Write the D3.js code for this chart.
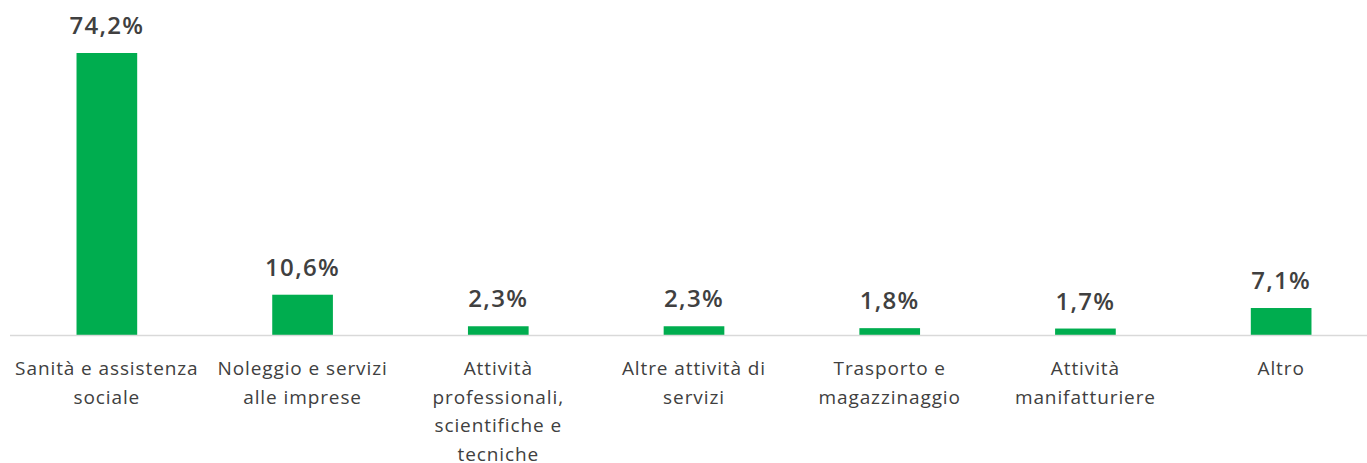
<!DOCTYPE html>
<html><head><meta charset="utf-8">
<script src="https://cdn.jsdelivr.net/npm/d3@7"></script>
<style>body{margin:0;background:#fff;} svg{display:block;}</style>
</head><body>
<svg id="chart" width="1367" height="463"></svg>
<script>
const categories = [
  ["Sanità e assistenza","sociale"],
  ["Noleggio e servizi","alle imprese"],
  ["Attività","professionali,","scientifiche e","tecniche"],
  ["Altre attività di","servizi"],
  ["Trasporto e","magazzinaggio"],
  ["Attività","manifatturiere"],
  ["Altro"]
];
const values = [74.2, 10.6, 2.3, 2.3, 1.8, 1.7, 7.1];
const valueLabels = ["74,2%","10,6%","2,3%","2,3%","1,8%","1,7%","7,1%"];

const svg = d3.select("#chart");
const baseY = 335;
const x = d3.scaleBand().domain(d3.range(values.length)).range([9, 1379]).paddingInner(0.69).paddingOuter(0.345);
const y = d3.scaleLinear().domain([0, 74.2]).range([baseY, 53]);

svg.selectAll("rect.bar").data(values).enter().append("rect")
  .attr("x", (d,i) => x(i)).attr("width", x.bandwidth())
  .attr("y", d => y(d)).attr("height", d => baseY - y(d))
  .attr("fill", "#00ad4f");

svg.append("line").attr("x1", 10).attr("x2", 1367).attr("y1", baseY + 0.5).attr("y2", baseY + 0.5)
  .attr("stroke", "#d9d9d9").attr("stroke-width", 1.5);

svg.selectAll("text.val").data(values).enter().append("text")
  .attr("x", (d,i) => x(i) + x.bandwidth()/2).attr("y", d => y(d) - 19)
  .attr("text-anchor", "middle").attr("fill", "#404040")
  .style("font-family", "'Open Sans', sans-serif").style("font-size", "24px").style("font-weight", "600")
  .style("letter-spacing", "1.3px")
  .text((d,i) => valueLabels[i]);

const cat = svg.selectAll("text.cat").data(categories).enter().append("text")
  .attr("text-anchor", "middle").attr("fill", "#404040")
  .style("font-family", "'Open Sans', sans-serif").style("font-size", "19px")
  .style("letter-spacing", "0.9px");
cat.each(function(lines, i){
  const t = d3.select(this);
  lines.forEach((ln, j) => {
    t.append("tspan").attr("x", x(i) + x.bandwidth()/2).attr("y", 375 + j*28.5).text(ln);
  });
});
</script>
</body></html>
